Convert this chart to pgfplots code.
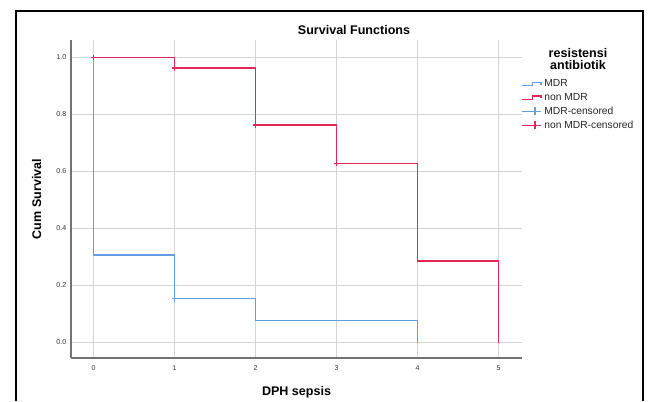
\documentclass[border=0pt]{standalone}
\usepackage{pgfplots}
\pgfplotsset{compat=1.18}
\usepackage{fontspec}
\setmainfont{Liberation Sans}
\definecolor{mdrblue}{RGB}{98,158,228}
\definecolor{nonred}{RGB}{228,38,88}
\definecolor{gridgray}{RGB}{212,212,212}

\begin{document}
\begin{tikzpicture}[x=0.75pt,y=0.75pt]
\fill[white] (0,0) rectangle (648,401);
\path[use as bounding box] (0,0) rectangle (648,401);

\begin{axis}[
  at={(53.25pt,32.25pt)}, anchor=south west,
  scale only axis, width=338.25pt, height=238.5pt,
  xmin=-0.27778, xmax=5.29012, ymin=-0.054386, ymax=1.061404,
  axis x line*=bottom, axis y line*=left,
  axis line style={-, line width=1pt, color=black!55},
  xtick={0,1,2,3,4,5}, ytick={0,0.2,0.4,0.6,0.8,1.0},
  major tick length=0pt,
  yticklabel style={/pgf/number format/fixed, /pgf/number format/fixed zerofill, /pgf/number format/precision=1},
  tick label style={font=\fontsize{5.3}{6}\selectfont, text=black!80},
  /pgf/number format/assume math mode=true,
  xticklabel style={yshift=-2pt},
  grid=major,
  major grid style={line width=1pt, color=gridgray},
  legend style={at={(axis description cs:0.997,0.885)}, anchor=north west,
    draw=none, fill=none, font=\fontsize{7.7}{9}\selectfont, text=black!85,
    row sep=-0.6pt, inner sep=0pt, cells={anchor=west}},
]
\addplot[mdrblue, line width=1.2pt, forget plot] coordinates {
  (0,1) (0,0.3077) (1,0.3077) (1,0.1538) (2,0.1538) (2,0.0769) (4,0.0769) (4,0)};
\addplot[nonred, line width=1.2pt, forget plot] coordinates {
  (0,1) (1,1) (1,0.963) (2,0.963) (2,0.763) (3,0.763) (3,0.628) (4,0.628) (4,0.285) (5,0.285) (5,0)};
\addplot[only marks, mark=+, mark size=2.2pt, mdrblue, mark options={line width=1.1pt}, forget plot]
  coordinates {(1,0.1538)};
\addplot[only marks, mark=+, mark size=2.2pt, nonred, mark options={line width=1.1pt}, forget plot]
  coordinates {(0,1) (1,0.963) (2,0.763) (3,0.628)};

\addlegendimage{legend image code/.code={
  \draw[mdrblue, line width=1.1pt] (0pt,-1.2pt) -- (8pt,-1.2pt) -- (8pt,1.3pt) -- (14.5pt,1.3pt) -- (14.5pt,-0.6pt);}}
\addlegendentry{MDR}
\addlegendimage{legend image code/.code={
  \draw[nonred, line width=1.1pt] (0pt,-1.2pt) -- (8pt,-1.2pt) -- (8pt,1.3pt) -- (14.5pt,1.3pt) -- (14.5pt,-0.6pt);}}
\addlegendentry{non MDR}
\addlegendimage{legend image code/.code={
  \draw[mdrblue, line width=1.1pt] (0pt,0pt) -- (14.5pt,0pt) (10pt,-3pt) -- (10pt,3pt);}}
\addlegendentry{MDR-censored}
\addlegendimage{legend image code/.code={
  \draw[nonred, line width=1.1pt] (0pt,0pt) -- (14.5pt,0pt) (10pt,-3pt) -- (10pt,3pt);}}
\addlegendentry{non MDR-censored}
\end{axis}

% outer frame (bottom edge lies outside the picture)
\draw[line width=1.4pt] (16,0) -- (16,390) -- (642.7,390) -- (642.7,0);

\node[font=\bfseries\fontsize{9.4}{11}\selectfont] at (354,371) {Survival Functions};
\node[font=\bfseries\fontsize{9.4}{9.3}\selectfont, align=center] at (578,342) {resistensi\\antibiotik};
\node[font=\bfseries\fontsize{9.4}{11}\selectfont] at (296.5,9) {DPH sepsis};
\node[font=\bfseries\fontsize{9.4}{11}\selectfont, rotate=90] at (36.7,202) {Cum Survival};
\end{tikzpicture}
\end{document}
